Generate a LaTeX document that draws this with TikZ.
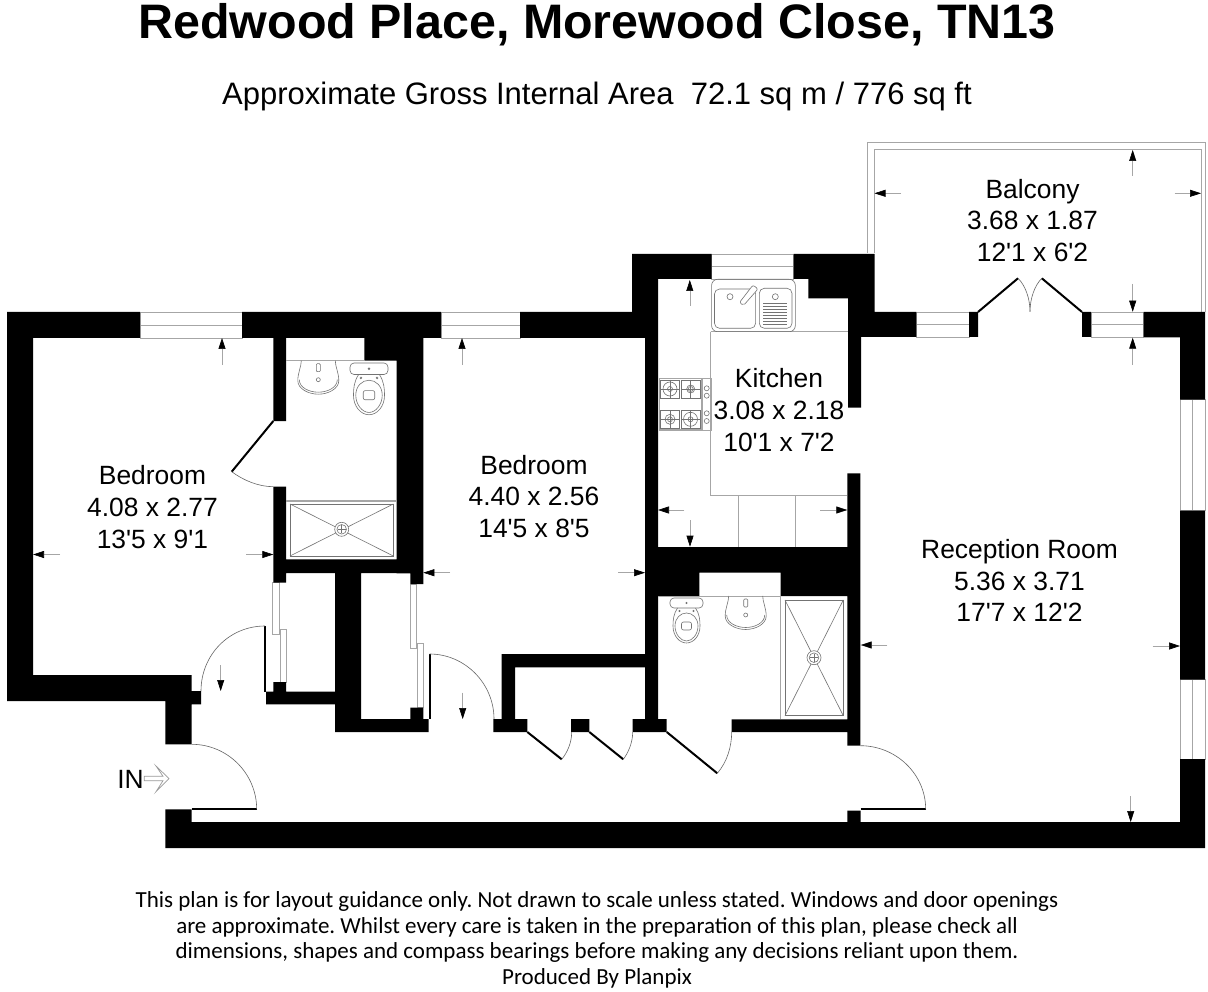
\documentclass[tikz,border=0pt]{standalone}
\usepackage{fontspec}
\usepackage{xcolor}
\usepackage{tikz}
\usetikzlibrary{arrows.meta}
\setmainfont{Liberation Sans}
\newfontfamily\labelfont{Liberation Sans}
\newfontfamily\notefont{Carlito}

\begin{document}
\begin{tikzpicture}[x=1pt,y=-1pt]
\frenchspacing
\tikzstyle{title} = [font=\fontsize{48.4}{50}\selectfont\bfseries];
\tikzstyle{area} = [font=\fontsize{31}{34}\selectfont];
\tikzstyle{room} = [font=\fontsize{26.4}{31.7}\labelfont,align=center,inner sep=0];
\tikzstyle{note} = [font=\fontsize{23}{25}\notefont,inner sep=0];
\tikzstyle{glass} = [draw=black!35,line width=0.8];
\tikzstyle{leaf} = [line width=2,draw=black];
\tikzstyle{swing} = [draw=black!60,line width=0.6];
\tikzstyle{fitting} = [draw=black!55,line width=0.6];
\tikzstyle{measure} = [draw=black!35,line width=0.6,-{Triangle[black,length=11pt,width=7pt]}];
\useasboundingbox [fill=white] (0,0) rectangle (1208,992);

\node [title] (heading) at (597,25) {Redwood Place, Morewood Close, TN13};
\node [area] (grossarea) at (597,96) {Approximate Gross Internal Area\ \ 72.1 sq m / 776 sq ft};

\draw [glass] (867,253) -- (867,142.7) -- (1205,142.7) -- (1205,312);
\draw [glass] (874.5,253) -- (874.5,149.3) -- (1201,149.3) -- (1201,312);

\foreach \xa/\ya/\xb/\yb in {140/312/242/338, 441/312/520/338, 711.6/254/793.5/279, 916.4/312/969/337, 1091/312/1143.6/337} {
  \draw [glass] (\xa,\ya) rectangle (\xb,\yb);
  \draw [glass] (\xa,{(\ya+\yb)/2}) -- (\xb,{(\ya+\yb)/2});
}
\foreach \ya/\yb in {399.7/510.6, 679.6/759.2} {
  \draw [glass] (1180,\ya) rectangle (1205,\yb);
  \draw [glass] (1192.7,\ya) -- (1192.7,\yb);
}
\foreach \xa/\ya/\xb/\yb in {272.7/582.7/279/634, 280/629.3/286/682, 410.3/584/416/648.3, 417.3/643.3/423.3/707.7} {
  \draw [glass] (\xa,\ya) rectangle (\xb,\yb);
}

\fill [black] \foreach \xa/\ya/\xb/\yb in {
  7/312/140/338, 7/312/33/701, 7/675/191.7/701, 165.3/675/191.7/744.3,
  191.7/691/201/704.3, 266/691.7/335/704.3, 273.3/682/286/692.5,
  273.3/486.7/286/582.7, 273.3/337/286/421, 242/312/441/338,
  364.3/337/423.3/360.7, 396.7/337/423.3/573.3, 273.3/559.3/423.3/573,
  335/559.3/361/732, 335/719/428.7/732, 410.3/559/423.3/584,
  410.3/707.7/423.3/719.5, 520/312/645/338, 632/254/711.6/279,
  632/254/658/337, 645/337/658/732, 493.3/719/527.3/732,
  501.7/654/515/732, 501.7/654/650/667.3, 571/719/589.3/732,
  632.7/719/666.7/732, 645/547/860.3/572.7, 645/572/699.3/596,
  780.7/572/860.3/596, 847.3/473.3/860.3/745.7, 731.7/719.3/860/732,
  793.5/254/874.5/279, 808.4/278/874.5/298.3, 848/298/874.5/337,
  848/312/916.4/337, 848/337/861/407.7, 969/312/978/337,
  1082/312/1091/337, 1143.6/312/1205/337.5, 1180/312/1205/399.7,
  1180/510.6/1205/679.6, 1180/759.2/1205/848, 165.3/822/1205/848,
  165.3/809.3/191.7/848, 847.3/810.7/860.7/823} { (\xa,\ya) rectangle (\xb,\yb) };

\draw [glass] (710.5,331.7) -- (848,331.7) (710.5,331.7) -- (710.5,495) -- (847.3,495);
\draw [glass] (738,495) -- (738,546.7) (795,495) -- (795,546.7);
\draw [glass] (658,596) -- (780.7,596) -- (780.7,719);
\draw [glass] (286,360.7) -- (364.3,360.7) (286,500) -- (396.7,500) (286,501.8) -- (396.7,501.8);

\draw [leaf] (978,312) -- (1018,278.3);
\draw [leaf] (1082,312) -- (1041.8,278.3);
\draw [leaf] (273.3,421) -- (231.7,471.7);
\draw [leaf] (265,626) -- (265,691.7);
\draw [leaf] (191.7,809.3) -- (256.7,809.3);
\draw [leaf] (429.7,654) -- (429.7,719);
\draw [leaf] (527.3,732) -- (561.7,759.3);
\draw [leaf] (589.3,732) -- (623.3,759.3);
\draw [leaf] (666.7,732) -- (717.3,773.3);
\draw [leaf] (860.7,809.3) -- (925.7,809.3);

\draw [swing] (1018,278.3) .. controls (1025,285) and (1030,298) .. (1030,311.7);
\draw [swing] (1041.8,278.3) .. controls (1035,285) and (1030,298) .. (1030,311.7);
\draw [swing] (231.7,471.7) .. controls (243,480) and (258,486.7) .. (273.3,486.7);
\draw [swing] (201,691) .. controls (201,655) and (229,626) .. (265,626);
\draw [swing] (191.7,744.3) .. controls (227.5,744.3) and (256.7,773.5) .. (256.7,809.3);
\draw [swing] (429.5,654) .. controls (465,654) and (494,683.5) .. (494,719);
\draw [swing] (561.7,759.3) .. controls (567,753) and (571.7,743) .. (571.7,732);
\draw [swing] (623.3,759.3) .. controls (628,753) and (632.7,743) .. (632.7,732);
\draw [swing] (717.3,773.3) .. controls (727,762) and (731.7,747) .. (731.7,731.7);
\draw [swing] (860.3,745.7) .. controls (896,745.7) and (925.7,774) .. (925.7,809.3);

\foreach \xa/\ya/\xb/\yb/\xc/\yc in {290/504/393.3/556/341.7/529.3, 785/600/843.3/715.7/814/657.7} {
  \draw [fitting] (\xa,\ya) rectangle (\xb,\yb);
  \draw [fitting] (\xa,\ya) -- (\xb,\yb) (\xa,\yb) -- (\xb,\ya);
  \draw [fitting,fill=white] (\xc,\yc) circle (7pt);
  \draw [fitting] (\xc,\yc) circle (4.8pt);
  \draw [fitting] (\xc,\yc) +(-4,0) -- +(4,0) +(0,-4) -- +(0,4);
}
\foreach \px/\py in {318.3/360.7, 745.7/596} {
  \begin{scope}[shift={(\px,\py)}]
    \draw [fitting] (-17,0) .. controls (-17,6) and (-20.5,12) .. (-20.5,20) .. controls (-20.5,28) and (-10,33.5) .. (0,33.5) .. controls (10,33.5) and (20.5,28) .. (20.5,20) .. controls (20.5,12) and (17,6) .. (17,0);
    \draw [fitting] (-19,19) .. controls (-19,27) and (-9,31.5) .. (0,31.5) .. controls (9,31.5) and (19,27) .. (19,19);
    \draw [fitting,rounded corners=1] (-2,3) rectangle (2,11);
    \draw [fitting] (0,19) circle (2pt);
  \end{scope}
}
\foreach \px/\py/\ps in {369/360.7/1.15, 686.5/596/1} {
  \begin{scope}[shift={(\px,\py)},scale=\ps]
    \draw [fitting,rounded corners=4] (-16.5,2) rectangle (16.5,12);
    \draw [fitting] (-9,12) .. controls (-13,18) and (-13.5,24) .. (-13.5,30) .. controls (-13.5,40) and (-7,47) .. (0,47) .. controls (7,47) and (13.5,40) .. (13.5,30) .. controls (13.5,24) and (13,18) .. (9,12);
    \draw [fitting] (-11.5,30) .. controls (-11.5,38) and (-6,45) .. (0,45) .. controls (6,45) and (11.5,38) .. (11.5,30) .. controls (11.5,22) and (6,17) .. (0,17) .. controls (-6,17) and (-11.5,22) .. (-11.5,30);
    \draw [fitting] (-7,15) circle (0.8pt) (7,15) circle (0.8pt) (0,7) circle (0.8pt);
    \draw [fitting,rounded corners=2] (-5,26) rectangle (5,34);
  \end{scope}
}

\draw [fitting,rounded corners=6] (711.6,279.3) rectangle (795.3,331.7);
\draw [fitting,rounded corners=5] (714.5,289) rectangle (755.6,328.3);
\draw [fitting,rounded corners=5] (759.3,288.3) rectangle (792,328.3);
\draw [fitting] (730,296.7) circle (3pt) (775.3,296.7) circle (3pt);
\draw [fitting,fill=white,rounded corners=2] (753,285) -- (758,289) -- (743.5,305.5) -- (739.5,302.5) -- cycle;
\foreach \ry in {303,306,...,324} {
  \draw [fitting] (763,\ry) -- (787,\ry);
}

\draw [glass,line width=1.2] (659.5,378.3) rectangle (702,430);
\draw [glass] (702,378.3) rectangle (711,430);
\foreach \hx/\hy in {660.7/380, 681/380, 660.7/410, 681/410} {
  \draw [fitting,line width=0.9] (\hx,\hy) rectangle ++(19,18.3);
}
\foreach \kx/\ky in {706.7/388.3, 706.7/395.7, 706.7/413.3, 706.7/421} {
  \draw [fitting] (\kx,\ky) circle (2.5pt);
}
\foreach \bx/\by/\br in {670/389/7, 690.7/389/4, 670/419.3/5, 690.5/419.3/7} {
  \draw [fitting] (\bx,\by) circle (\br pt) (\bx,\by) circle (2.5pt);
  \draw [fitting] (\bx,\by) +(-9.5,0) -- +(9.5,0) +(0,-9) -- +(0,9);
}

\draw [draw=black!40,fill=white,line width=0.7] (144.3,776.3) -- (163,776.3) -- (156,766) -- (169,778.5) -- (156,791.7) -- (163,780.7) -- (144.3,780.7) -- cycle;

\foreach \tx/\ty/\sx/\sy in {874.5/193.3/901/193.3, 1201/193.3/1174.5/193.3, 1132.7/150/1132.7/175.7,
  1132.7/311.7/1132.7/284, 1132.7/337.7/1132.7/365, 1180/646/1152.7/646, 1130.7/822/1130.7/796.4,
  860.7/645/887.3/645, 689.8/280/689.8/306, 690/546.7/690/520, 658/510/684.3/510, 847.3/510/820/510,
  222/338/222/365, 33/554.5/60/554.5, 273.3/554.5/246/554.5, 220.7/691/220.7/665,
  462/338/462/365, 423.3/572.7/450/572.7, 645/572.7/618/572.7, 462.7/719/462.7/692.7} {
  \draw [measure] (\sx,\sy) -- (\tx,\ty);
}

\node [room] (balcony) at (1032.5,220.5) {Balcony\\3.68 x 1.87\\12'1 x 6'2};
\node [room] (kitchen) at (779,410) {Kitchen\\3.08 x 2.18\\10'1 x 7'2};
\node [room] (frontbedroom) at (152.5,507) {Bedroom\\4.08 x 2.77\\13'5 x 9'1};
\node [room] (backbedroom) at (534,496.5) {Bedroom\\4.40 x 2.56\\14'5 x 8'5};
\node [room] (reception) at (1019.5,580.5) {Reception Room\\5.36 x 3.71\\17'7 x 12'2};
\node [room] (entrance) at (130.5,779.5) {IN};

\node [note] (guidanceone) at (597,901) {This plan is for layout guidance only. Not drawn to scale unless stated. Windows and door openings};
\node [note] (guidancetwo) at (597,927) {are approximate. Whilst every care is taken in the preparation of this plan, please check all};
\node [note] (guidancethree) at (597,952) {dimensions, shapes and compass bearings before making any decisions reliant upon them.};
\node [note] (producer) at (597,978) {Produced By Planpix};
\end{tikzpicture}
\end{document}
